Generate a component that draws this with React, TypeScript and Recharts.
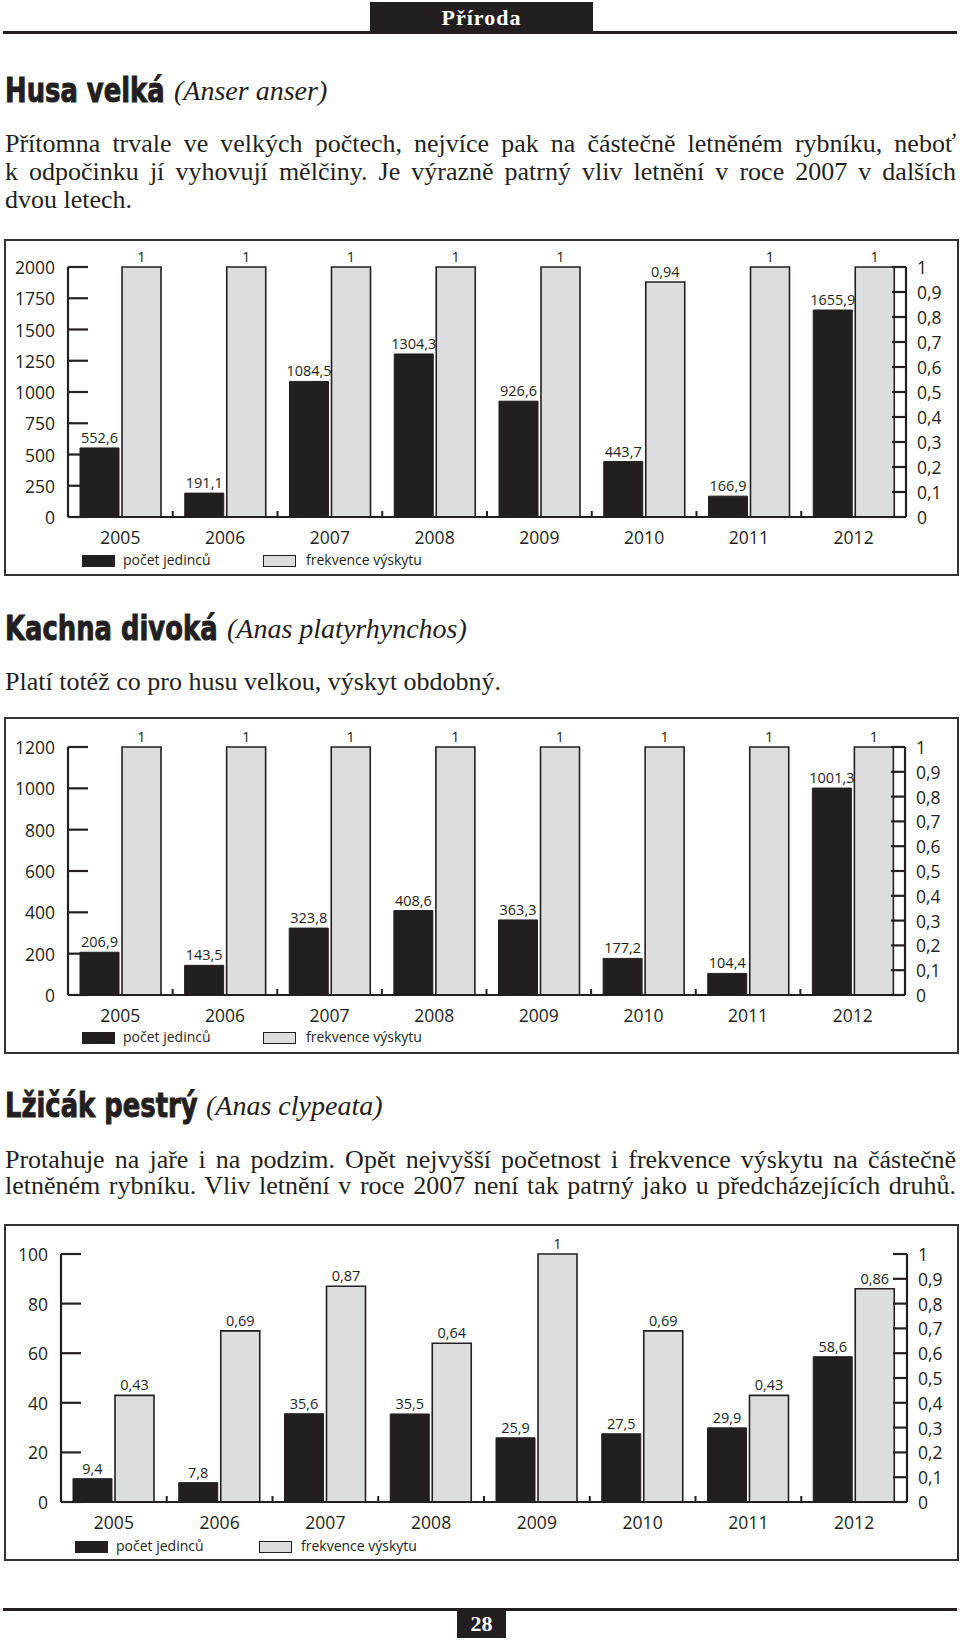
import React from "react";
import { BarChart, Bar, XAxis, YAxis, LabelList } from "recharts";

const years = ["2005", "2006", "2007", "2008", "2009", "2010", "2011", "2012"];

const husaCount = [552.6, 191.1, 1084.5, 1304.3, 926.6, 443.7, 166.9, 1655.9];
const husaFreq = [1, 1, 1, 1, 1, 0.94, 1, 1];
const husaTicks = [0, 250, 500, 750, 1000, 1250, 1500, 1750, 2000];

const kachnaCount = [206.9, 143.5, 323.8, 408.6, 363.3, 177.2, 104.4, 1001.3];
const kachnaFreq = [1, 1, 1, 1, 1, 1, 1, 1];
const kachnaTicks = [0, 200, 400, 600, 800, 1000, 1200];

const lzicakCount = [9.4, 7.8, 35.6, 35.5, 25.9, 27.5, 29.9, 58.6];
const lzicakFreq = [0.43, 0.69, 0.87, 0.64, 1, 0.69, 0.43, 0.86];
const lzicakTicks = [0, 20, 40, 60, 80, 100];

const freqTicks = [0, 0.1, 0.2, 0.3, 0.4, 0.5, 0.6, 0.7, 0.8, 0.9, 1];

const INK = "#231f20";
const GRAY = "#dcddde";
const SANS = "'Open Sans', 'Noto Sans', sans-serif";
const SERIF = "'Liberation Serif', 'DejaVu Serif', serif";
const HEAVY = "'DejaVu Sans', sans-serif";

const fmt = (v: any) => String(v).replace(".", ",");

const LeftTick = (props: any) => {
  const { x, y, payload } = props;
  return (
    <g>
      <line x1={x} x2={x + 20} y1={y} y2={y} stroke={INK} strokeWidth={2.2} />
      <text x={x - 13} y={y} textAnchor="end" dominantBaseline="central" fontSize={17.5} fontFamily={SANS} fill={INK}>
        {fmt(payload.value)}
      </text>
    </g>
  );
};

const RightTick = (props: any) => {
  const { x, y, payload } = props;
  return (
    <g>
      <line x1={x - 14} x2={x} y1={y} y2={y} stroke={INK} strokeWidth={2.2} />
      <text x={x + 11} y={y} textAnchor="start" dominantBaseline="central" fontSize={17.5} fontFamily={SANS} fill={INK}>
        {fmt(payload.value)}
      </text>
    </g>
  );
};

function SpeciesChart({ top, count, freq, leftTicks, leftW, rightW, plotTop, legend }: any) {
  const data = years.map((year, i) => ({ year, count: count[i], freq: freq[i] }));
  const band = (960 - leftW - rightW) / years.length;

  const YearTick = (props: any) => {
    const { x, y, payload, index } = props;
    return (
      <g>
        {index < years.length - 1 && (
          <line x1={x + band / 2} x2={x + band / 2} y1={y} y2={y - 6} stroke={INK} strokeWidth={2} />
        )}
        <text x={x} y={y + 20} textAnchor="middle" dominantBaseline="central" fontSize={17.5} fontFamily={SANS} fill={INK}>
          {payload.value}
        </text>
      </g>
    );
  };

  const legendText = {
    position: "absolute" as const,
    top: legend.y - 11,
    lineHeight: "20px",
    fontSize: 14,
    fontFamily: SANS,
    color: INK,
    whiteSpace: "nowrap" as const,
  };

  return (
    <>
      <div
        style={{
          position: "absolute",
          left: 4,
          top,
          width: 955,
          height: 337,
          border: "2px solid #333",
          boxSizing: "border-box",
        }}
      />
      <div style={{ position: "absolute", left: 0, top }}>
        <BarChart
          width={960}
          height={336}
          data={data}
          margin={{ top: plotTop, right: 0, bottom: 0, left: 0 }}
          barCategoryGap={12}
          barGap={3}
        >
          <XAxis
            dataKey="year"
            height={58}
            interval={0}
            tickSize={0}
            tickMargin={0}
            tickLine={false}
            axisLine={{ stroke: INK, strokeWidth: 2.2 }}
            tick={YearTick}
          />
          <YAxis
            yAxisId="left"
            width={leftW}
            domain={[leftTicks[0], leftTicks[leftTicks.length - 1]]}
            ticks={leftTicks}
            interval={0}
            tickSize={0}
            tickMargin={0}
            tickLine={false}
            axisLine={{ stroke: INK, strokeWidth: 2.2 }}
            tick={LeftTick}
          />
          <YAxis
            yAxisId="right"
            orientation="right"
            width={rightW}
            domain={[0, 1]}
            ticks={freqTicks}
            interval={0}
            tickSize={0}
            tickMargin={0}
            tickLine={false}
            axisLine={{ stroke: INK, strokeWidth: 2.2 }}
            tick={RightTick}
          />
          <Bar yAxisId="left" dataKey="count" fill={INK} stroke={INK} strokeWidth={1} isAnimationActive={false}>
            <LabelList dataKey="count" position="top" offset={5} formatter={fmt} fill={INK} fontSize={14.5} fontFamily={SANS} />
          </Bar>
          <Bar yAxisId="right" dataKey="freq" fill={GRAY} stroke={INK} strokeWidth={1.6} isAnimationActive={false}>
            <LabelList dataKey="freq" position="top" offset={5} formatter={fmt} fill={INK} fontSize={14.5} fontFamily={SANS} />
          </Bar>
        </BarChart>
      </div>
      <div style={{ position: "absolute", left: legend.bx, top: legend.y - 6, width: 33, height: 12, background: INK }} />
      <div style={{ ...legendText, left: legend.tx }}>počet jedinců</div>
      <div
        style={{
          position: "absolute",
          left: legend.gx,
          top: legend.y - 6,
          width: 33,
          height: 12,
          background: GRAY,
          border: `1.5px solid ${INK}`,
          boxSizing: "border-box",
        }}
      />
      <div style={{ ...legendText, left: legend.gtx }}>frekvence výskytu</div>
    </>
  );
}

function Title({ top, bold, latin, latinX }: any) {
  return (
    <>
      <div
        style={{
          position: "absolute",
          left: 5,
          top,
          lineHeight: "40px",
          whiteSpace: "nowrap",
          color: INK,
          fontFamily: HEAVY,
          fontWeight: 700,
          fontSize: 34,
          WebkitTextStroke: `1px ${INK}`,
          transform: "scaleX(0.76)",
          transformOrigin: "left center",
        }}
      >
        {bold}
      </div>
      <div
        style={{
          position: "absolute",
          left: latinX,
          top: top + 1,
          lineHeight: "40px",
          whiteSpace: "nowrap",
          color: INK,
          fontFamily: SERIF,
          fontStyle: "italic",
          fontSize: 28,
        }}
      >
        ({latin})
      </div>
    </>
  );
}

function Line({ top, text, justify }: any) {
  return (
    <div
      style={{
        position: "absolute",
        left: 5,
        top,
        width: 951,
        lineHeight: "28px",
        fontFamily: SERIF,
        fontSize: 26,
        color: INK,
        whiteSpace: "nowrap",
        textAlign: justify ? "justify" : "left",
        textAlignLast: justify ? "justify" : "left",
      }}
    >
      {text}
    </div>
  );
}

export default function App() {
  return (
    <div style={{ position: "absolute", left: 0, top: 0, width: 960, height: 1644, background: "#fff", overflow: "hidden" }}>
      {/* page header */}
      <div style={{ position: "absolute", left: 3, top: 31, width: 954, height: 2.5, background: INK }} />
      <div
        style={{
          position: "absolute",
          left: 370,
          top: 2,
          width: 223,
          height: 31,
          background: INK,
          color: "#fff",
          fontFamily: SERIF,
          fontWeight: 700,
          fontSize: 22,
          letterSpacing: 1,
          lineHeight: "31px",
          textAlign: "center",
        }}
      >
        Příroda
      </div>

      <Title top={70} bold="Husa velká" latin="Anser anser" latinX={174} />
      <Line top={130} justify text="Přítomna trvale ve velkých počtech, nejvíce pak na částečně letněném rybníku, neboť" />
      <Line top={158} justify text="k odpočinku jí vyhovují mělčiny. Je výrazně patrný vliv letnění v roce 2007 v dalších" />
      <Line top={186} text="dvou letech." />

      <SpeciesChart
        top={239}
        count={husaCount}
        freq={husaFreq}
        leftTicks={husaTicks}
        leftW={68}
        rightW={54}
        plotTop={28}
        legend={{ y: 561, bx: 82, tx: 123, gx: 263, gtx: 306 }}
      />

      <Title top={608} bold="Kachna divoká" latin="Anas platyrhynchos" latinX={227} />
      <Line top={668} text="Platí totéž co pro husu velkou, výskyt obdobný." />

      <SpeciesChart
        top={717}
        count={kachnaCount}
        freq={kachnaFreq}
        leftTicks={kachnaTicks}
        leftW={68}
        rightW={55}
        plotTop={30}
        legend={{ y: 1038, bx: 82, tx: 123, gx: 263, gtx: 306 }}
      />

      <Title top={1085} bold="Lžičák pestrý" latin="Anas clypeata" latinX={206} />
      <Line top={1146} justify text="Protahuje na jaře i na podzim. Opět nejvyšší početnost i frekvence výskytu na částečně" />
      <Line top={1172} justify text="letněném rybníku. Vliv letnění v roce 2007 není tak patrný jako u předcházejících druhů." />

      <SpeciesChart
        top={1224}
        count={lzicakCount}
        freq={lzicakFreq}
        leftTicks={lzicakTicks}
        leftW={61}
        rightW={53}
        plotTop={30}
        legend={{ y: 1547, bx: 75, tx: 116, gx: 259, gtx: 301 }}
      />

      {/* page footer */}
      <div style={{ position: "absolute", left: 3, top: 1608, width: 954, height: 2.5, background: INK }} />
      <div
        style={{
          position: "absolute",
          left: 457,
          top: 1609,
          width: 49,
          height: 29,
          background: INK,
          color: "#fff",
          fontFamily: SERIF,
          fontWeight: 700,
          fontSize: 22,
          lineHeight: "29px",
          textAlign: "center",
        }}
      >
        28
      </div>
    </div>
  );
}
